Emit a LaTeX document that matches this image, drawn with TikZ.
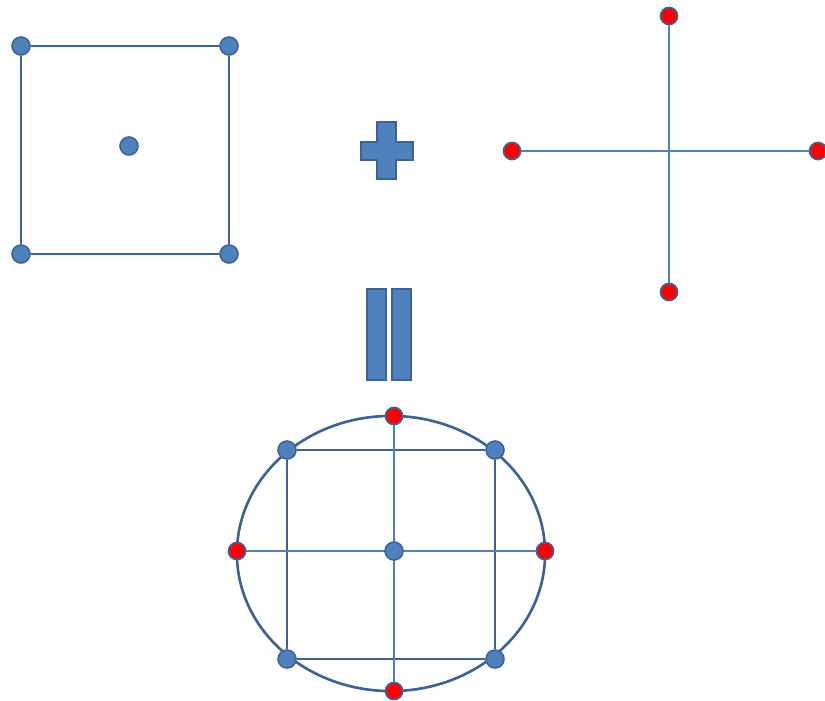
\documentclass[tikz,border=0pt]{standalone}
\usepackage{tikz}
\usepackage{xcolor}
\usetikzlibrary{shapes}
\definecolor{dotblue}{HTML}{4F81BD}
\definecolor{edgeblue}{HTML}{3F6292}
\tikzset{bluedot/.style={circle,fill=dotblue,draw=edgeblue,line width=0.45pt,minimum size=0.18cm,inner sep=0pt},
reddot/.style={circle,fill=red,draw=edgeblue,line width=0.5pt,minimum size=0.17cm,inner sep=0pt},
frame/.style={draw=edgeblue,line width=0.75pt},
thinline/.style={draw=dotblue,line width=0.4pt},
symbol/.style={fill=dotblue,draw=edgeblue,line width=0.7pt}}

\begin{document}
\begin{tikzpicture}[x=0.01cm,y=-0.01cm]
\useasboundingbox (0,0) rectangle (825,700);
% square with centre point
\node[bluedot](sqa) at (21,46){};
\node[bluedot](sqb) at (229,46){};
\node[bluedot](sqc) at (229,254){};
\node[bluedot](sqd) at (21,254){};
\node[bluedot](sqm) at (129,146){};
\draw[frame](sqa)--(sqb)--(sqc)--(sqd)--(sqa);
% plus sign
\draw[symbol](377,122)--(396,122)--(396,142)--(413,142)--(413,160)--(396,160)
  --(396,179)--(377,179)--(377,160)--(361,160)--(361,142)--(377,142)--cycle;
% cross with four points
\node[reddot](crl) at (512,151){};
\node[reddot](crr) at (818,151){};
\node[reddot](crt) at (669,16){};
\node[reddot](crb) at (669,292){};
\draw[thinline](crl)--(crr);
\draw[thinline](crt)--(crb);
% equals sign
\draw[symbol](367,289)rectangle(386,380);
\draw[symbol](392,289)rectangle(411,380);
% result
\draw[frame](391,553.5)ellipse[x radius=1.54cm,y radius=1.375cm];
\node[bluedot](rsa) at (287,450){};
\node[bluedot](rsb) at (495,450){};
\node[bluedot](rsc) at (495,659){};
\node[bluedot](rsd) at (287,659){};
\draw[frame](rsa)--(rsb)--(rsc)--(rsd)--(rsa);
\node[reddot](rcl) at (237,551){};
\node[reddot](rcr) at (545,551){};
\node[reddot](rct) at (394,416){};
\node[reddot](rcb) at (394,691){};
\draw[thinline](rcl)--(rcr);
\draw[thinline](rct)--(rcb);
\node[bluedot](rsm) at (394,551){};
\end{tikzpicture}
\end{document}
